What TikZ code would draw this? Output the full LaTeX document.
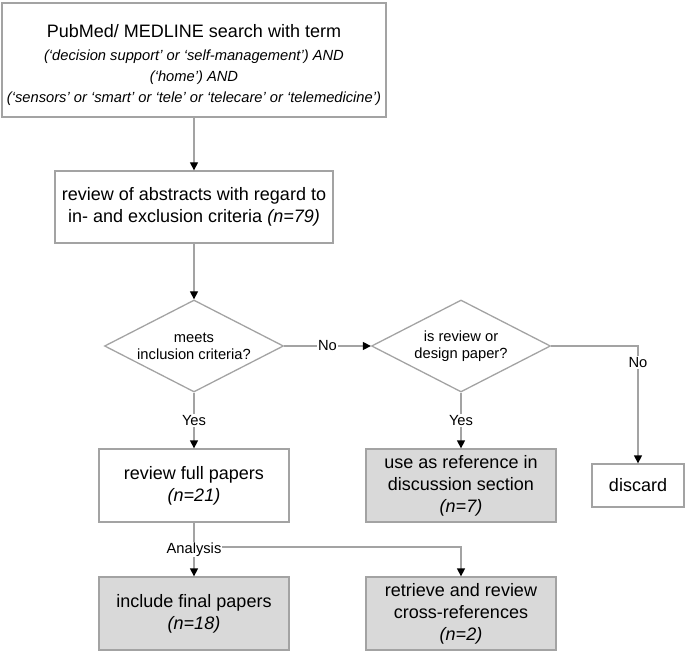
\documentclass[tikz,border=0pt]{standalone}
\usepackage{fontspec}
\setmainfont{Liberation Sans}
\usetikzlibrary{arrows.meta,shapes.geometric}

\definecolor{linegray}{HTML}{A3A3A3}
\definecolor{boxgray}{HTML}{D9D9D9}
\newcommand{\boxfont}{\fontsize{18}{22}\selectfont}
\newcommand{\smallfont}{\fontsize{14.7}{17}\selectfont}
\newcommand{\termfont}{\fontsize{14.7}{21}\selectfont\itshape}

\tikzset{
  box/.style={draw=linegray, line width=1.3pt, rectangle, align=center,
    inner sep=0pt, minimum width=190pt, minimum height=73pt, font=\boxfont},
  shadedbox/.style={box, fill=boxgray},
  decision/.style={draw=linegray, line width=1.3pt, diamond, aspect=2,
    align=center, inner sep=0pt, minimum width=179pt, minimum height=92pt,
    font=\smallfont},
  link/.style={draw=linegray, line width=1.3pt,
    -{Triangle[color=black,length=8pt,width=8pt]}},
  tag/.style={fill=white, inner sep=1pt, font=\smallfont},
}

\begin{document}
\begin{tikzpicture}[x=1pt,y=-1pt]
  \useasboundingbox (0,0) rectangle (685,652);

  % search and screening
  \node[box, minimum width=384pt, minimum height=114pt, font=\termfont] (search) at (194,60)
    {{\boxfont\upshape\rule{0pt}{23pt}PubMed/ MEDLINE search with term}\\[2pt]
     (‘decision support’ or ‘self-management’) AND\\
     (‘home’) AND\\
     (‘sensors’ or ‘smart’ or ‘tele’ or ‘telecare’ or ‘telemedicine’)};
  \node[box, minimum width=278pt, minimum height=72pt] (abstracts) at (194,207)
    {review of abstracts with regard to\\in- and exclusion criteria \textit{(n=79)}};

  % decisions
  \node[decision] (incl) at (194,346) {meets\\inclusion criteria?};
  \node[decision] (revdes) at (461,346) {is review or\\design paper?};

  % outcomes
  \node[box] (fullpap) at (194,485.5) {review full papers\\\textit{(n=21)}};
  \node[shadedbox] (useref) at (461,485.5)
    {use as reference in\\discussion section\\\textit{(n=7)}};
  \node[box, minimum width=92pt, minimum height=43pt] (discard) at (638,485.5) {discard};
  \node[shadedbox] (final) at (194,613.5) {include final papers\\\textit{(n=18)}};
  \node[shadedbox] (crossref) at (461,613.5)
    {retrieve and review\\cross-references\\\textit{(n=2)}};

  % connectors
  \draw[link] (search) -- (abstracts);
  \draw[link] (abstracts) -- (incl);
  \draw[link] (incl) -- node[tag] {No} (revdes);
  \draw[link] (revdes) -| node[tag, pos=0.57] {No} (discard);
  \draw[link] (incl) -- node[tag] {Yes} (fullpap);
  \draw[link] (revdes) -- node[tag] {Yes} (useref);
  \coordinate (split) at (194,547);
  \draw[link] (split) -| (crossref);
  \draw[link] (fullpap) -- node[tag] {Analysis} (final);
\end{tikzpicture}
\end{document}
